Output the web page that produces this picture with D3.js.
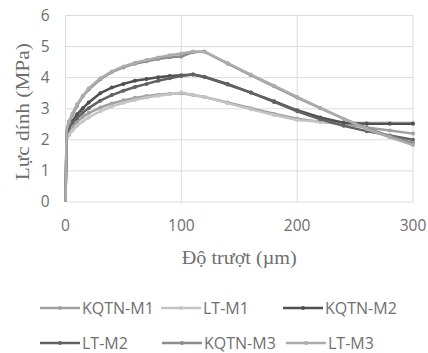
<!DOCTYPE html>
<html>
<head>
<meta charset="utf-8">
<script src="https://cdn.jsdelivr.net/npm/d3@7"></script>
<style>
  body { margin: 0; background: #fff; }
  svg { display: block; }
  .grid line { stroke: #dcdcdc; stroke-width: 1; }
  .tick-label { font-family: "Open Sans", "Liberation Sans", sans-serif; font-size: 15.5px; fill: #6e6e6e; }
  .title { font-family: "Liberation Serif", "DejaVu Serif", serif; font-size: 19px; fill: #6e6e6e; }
  .legend text { font-family: "Open Sans", "Liberation Sans", sans-serif; font-size: 16px; fill: #707070; }
</style>
</head>
<body>
<div class="chart"></div>
<script>
// slip values (µm) shared by all series
const slip = [0, 0.5, 1, 3, 6, 10, 15, 20, 30, 40, 50, 60, 70, 80, 90, 100, 110, 120, 140, 160, 180, 200, 220, 240, 260, 280, 300];

const kqtnM1 = [0, 1.0, 2.1, 2.25, 2.42, 2.58, 2.74, 2.86, 3.04, 3.17, 3.27, 3.35, 3.41, 3.45, 3.48, 3.5, 3.44, 3.38, 3.2, 3.02, 2.84, 2.68, 2.58, 2.5, 2.4, 2.3, 2.2];
const ltM1   = [0, 0.9, 2.0, 2.15, 2.3, 2.45, 2.6, 2.72, 2.92, 3.07, 3.19, 3.28, 3.36, 3.42, 3.47, 3.52, 3.45, 3.38, 3.18, 2.98, 2.8, 2.64, 2.58, 2.55, 2.55, 2.55, 2.55];
const kqtnM2 = [0, 1.1, 2.2, 2.4, 2.6, 2.82, 3.02, 3.2, 3.5, 3.68, 3.8, 3.9, 3.96, 4.01, 4.05, 4.08, 4.1, 4.02, 3.78, 3.52, 3.24, 2.95, 2.72, 2.55, 2.52, 2.52, 2.52];
const ltM2   = [0, 1.2, 2.25, 2.42, 2.55, 2.7, 2.88, 3.02, 3.26, 3.44, 3.58, 3.7, 3.8, 3.9, 3.98, 4.05, 4.1, 4.03, 3.8, 3.52, 3.22, 2.92, 2.66, 2.45, 2.28, 2.14, 2.0];
const kqtnM3 = [0, 1.2, 2.3, 2.55, 2.8, 3.1, 3.4, 3.62, 3.95, 4.18, 4.33, 4.45, 4.53, 4.6, 4.66, 4.68, 4.82, 4.84, 4.45, 4.08, 3.72, 3.36, 3.02, 2.68, 2.38, 2.12, 1.9];
const ltM3   = [0, 1.4, 2.35, 2.6, 2.85, 3.15, 3.42, 3.65, 3.98, 4.2, 4.36, 4.48, 4.57, 4.65, 4.72, 4.78, 4.84, 4.83, 4.47, 4.1, 3.74, 3.38, 3.03, 2.68, 2.35, 2.08, 1.83];

const seriesNames = ["KQTN-M1", "LT-M1", "KQTN-M2", "LT-M2", "KQTN-M3", "LT-M3"];
const seriesValues = [kqtnM1, ltM1, kqtnM2, ltM2, kqtnM3, ltM3];

const xTicks = [0, 100, 200, 300];
const yTicks = [0, 1, 2, 3, 4, 5, 6];

const colors = {
  "KQTN-M1": "#a0a0a0",
  "LT-M1": "#c4c4c4",
  "KQTN-M2": "#505050",
  "LT-M2": "#626262",
  "KQTN-M3": "#8c8c8c",
  "LT-M3": "#acacac"
};

const width = 428;
const height = 353;
const margin = { left: 65.5, right: 15, top: 15.5, bottom: 151 };

const svg = d3.select(".chart")
  .append("svg")
    .attr("width", width)
    .attr("height", height);

const x = d3.scaleLinear()
  .domain([0, 300])
  .range([margin.left, width - margin.right]);

const y = d3.scaleLinear()
  .domain([0, 6])
  .range([height - margin.bottom, margin.top]);

// gridlines
const grid = svg.append("g").attr("class", "grid");
grid.selectAll(".hg")
  .data(yTicks).enter()
  .append("line")
    .attr("x1", x(0)).attr("x2", x(300))
    .attr("y1", (d) => y(d)).attr("y2", (d) => y(d));
grid.selectAll(".vg")
  .data(xTicks).enter()
  .append("line")
    .attr("y1", y(0)).attr("y2", y(6))
    .attr("x1", (d) => x(d)).attr("x2", (d) => x(d));

// tick labels
svg.append("g")
  .selectAll("text")
    .data(yTicks).enter()
  .append("text")
    .attr("class", "tick-label")
    .attr("x", x(0) - 16)
    .attr("y", (d) => y(d))
    .attr("dy", "0.35em")
    .attr("text-anchor", "end")
    .text((d) => d);

svg.append("g")
  .selectAll("text")
    .data(xTicks).enter()
  .append("text")
    .attr("class", "tick-label")
    .attr("x", (d) => x(d))
    .attr("y", y(0) + 24)
    .attr("dy", "0.35em")
    .attr("text-anchor", "middle")
    .text((d) => d);

// axis titles
svg.append("text")
  .attr("class", "title")
  .attr("transform", `translate(22, ${(y(0) + y(6)) / 2 + 3}) rotate(-90)`)
  .attr("text-anchor", "middle")
  .attr("dy", "0.35em")
  .attr("textLength", 137)
  .attr("lengthAdjust", "spacingAndGlyphs")
  .text("Lực dính (MPa)");

svg.append("text")
  .attr("class", "title")
  .attr("x", (x(0) + x(300)) / 2)
  .attr("y", 257)
  .attr("dy", "0.35em")
  .attr("text-anchor", "middle")
  .attr("textLength", 115)
  .attr("lengthAdjust", "spacingAndGlyphs")
  .text("Độ trượt (µm)");

// series
const line = d3.line()
  .x((d) => x(d[0]))
  .y((d) => y(d[1]));

const data = seriesNames.map((name, i) => ({
  name: name,
  points: slip.map((s, j) => [s, seriesValues[i][j]])
}));

const series = svg.append("g")
  .selectAll("g")
    .data(data).enter()
  .append("g");

series.append("path")
  .attr("d", (d) => line(d.points))
  .attr("fill", "none")
  .attr("stroke", (d) => colors[d.name])
  .attr("stroke-width", 2.5)
  .attr("stroke-linejoin", "round");

series.selectAll("circle")
  .data((d) => d.points.slice(3).map((p) => ({ p: p, name: d.name })))
  .enter()
  .append("circle")
    .attr("cx", (d) => x(d.p[0]))
    .attr("cy", (d) => y(d.p[1]))
    .attr("r", 2)
    .attr("fill", (d) => colors[d.name]);

// legend
const legendPos = [
  { x: 40, y: 308 }, { x: 161, y: 308 }, { x: 283, y: 308 },
  { x: 40, y: 343 }, { x: 162, y: 343 }, { x: 286, y: 343 }
];

const legend = svg.append("g")
  .attr("class", "legend")
  .selectAll("g")
    .data(seriesNames).enter()
  .append("g")
    .attr("transform", (d, i) => `translate(${legendPos[i].x}, ${legendPos[i].y})`);

legend.append("line")
  .attr("x1", 0).attr("x2", 40)
  .attr("stroke", (d) => colors[d])
  .attr("stroke-width", 2.5);

legend.append("circle")
  .attr("cx", 20)
  .attr("r", 2)
  .attr("fill", (d) => colors[d]);

legend.append("text")
  .attr("x", 42)
  .attr("dy", "0.35em")
  .text((d) => d);
</script>
</body>
</html>
